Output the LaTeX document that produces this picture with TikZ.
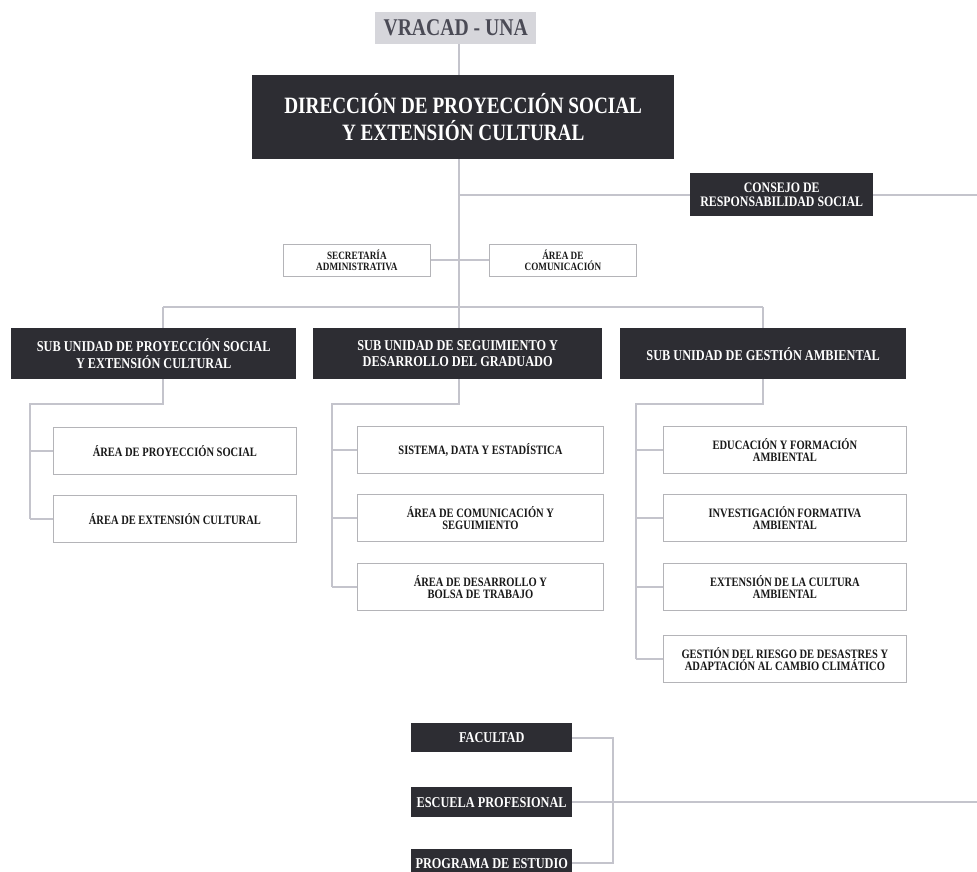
\documentclass[tikz,border=0pt]{standalone}
\usepackage{fontspec}
\setmainfont{Liberation Serif}[FakeStretch=0.82]
\pgfdeclarelayer{bglayer}
\pgfdeclarelayer{lines}
\pgfsetlayers{bglayer,lines,main}
\definecolor{boxdark}{HTML}{2D2D33}
\definecolor{linegray}{HTML}{C4C4CC}
\definecolor{boxedge}{HTML}{B4B4B8}
\definecolor{vrafill}{HTML}{D6D6DB}
\definecolor{vratext}{HTML}{4A4A55}
\tikzset{
  darkbox/.style={fill=boxdark, draw=none, text=white, font=\bfseries, align=center, inner sep=0pt, anchor=north west},
  lightbox/.style={fill=white, draw=boxedge, line width=0.8pt, text=black!90, font=\bfseries, align=center, inner sep=0pt, anchor=north west},
  conn/.style={draw=linegray, line width=2pt},
}
\begin{document}
\begin{tikzpicture}[x=1pt,y=-1pt]
\begin{pgfonlayer}{bglayer}
\fill[white] (0,0) rectangle (977,871);
\end{pgfonlayer}
\useasboundingbox (0,0) rectangle (977,871);

% top
\node[fill=vrafill, text=vratext, font=\bfseries\fontsize{24}{26}\selectfont, inner sep=0pt, anchor=north west, minimum width=161pt, minimum height=32pt] (vracad) at (375,12) {VRACAD - UNA};
\node[darkbox, font=\bfseries\fontsize{23.4}{27}\selectfont, minimum width=422pt, minimum height=84pt] (dir) at (252,75) {DIRECCIÓN DE PROYECCIÓN SOCIAL\\Y EXTENSIÓN CULTURAL};
\node[darkbox, font=\bfseries\fontsize{14.5}{14}\selectfont, minimum width=183pt, minimum height=43pt] (consejo) at (690,173) {CONSEJO DE\\RESPONSABILIDAD SOCIAL};
\node[lightbox, font=\bfseries\fontsize{11.2}{11}\selectfont, minimum width=147pt, minimum height=32pt] (secre) at (283,244) {SECRETARÍA\\ADMINISTRATIVA};
\node[lightbox, font=\bfseries\fontsize{11.2}{11}\selectfont, minimum width=147pt, minimum height=32pt] (acom) at (489,244) {ÁREA DE\\COMUNICACIÓN};

% sub unidades
\node[darkbox, font=\bfseries\fontsize{15}{16.5}\selectfont, minimum width=285pt, minimum height=51pt] (su1) at (11,328) {SUB UNIDAD DE PROYECCIÓN SOCIAL\\Y EXTENSIÓN CULTURAL};
\node[darkbox, font=\bfseries\fontsize{15}{16.5}\selectfont, minimum width=289pt, minimum height=51pt] (su2) at (313,328) {SUB UNIDAD DE SEGUIMIENTO Y\\DESARROLLO DEL GRADUADO};
\node[darkbox, font=\bfseries\fontsize{15}{16.5}\selectfont, minimum width=286pt, minimum height=51pt] (su3) at (620,328) {SUB UNIDAD DE GESTIÓN AMBIENTAL};

% children
\tikzset{child/.style={lightbox, font=\bfseries\fontsize{12.8}{12.5}\selectfont, minimum height=47pt}}
\node[child, minimum width=243pt] (a1) at (53,427) {ÁREA DE PROYECCIÓN SOCIAL};
\node[child, minimum width=243pt] (a2) at (53,495) {ÁREA DE EXTENSIÓN CULTURAL};
\node[child, minimum width=246pt] (b1) at (357,426) {SISTEMA, DATA Y ESTADÍSTICA};
\node[child, minimum width=246pt] (b2) at (357,494) {ÁREA DE COMUNICACIÓN Y\\SEGUIMIENTO};
\node[child, minimum width=246pt] (b3) at (357,563) {ÁREA DE DESARROLLO Y\\BOLSA DE TRABAJO};
\node[child, minimum width=243pt] (c1) at (663,426) {EDUCACIÓN Y FORMACIÓN\\AMBIENTAL};
\node[child, minimum width=243pt] (c2) at (663,494) {INVESTIGACIÓN FORMATIVA\\AMBIENTAL};
\node[child, minimum width=243pt] (c3) at (663,563) {EXTENSIÓN DE LA CULTURA\\AMBIENTAL};
\node[child, minimum width=243pt] (c4) at (663,635) {GESTIÓN DEL RIESGO DE DESASTRES Y\\ADAPTACIÓN AL CAMBIO CLIMÁTICO};

% bottom
\tikzset{small/.style={darkbox, font=\bfseries\fontsize{15}{16}\selectfont, minimum width=161pt}}
\node[small, minimum height=29pt] (fac) at (411,723) {FACULTAD};
\node[small, minimum height=30pt] (esc) at (411,787) {ESCUELA PROFESIONAL};
\node[small, minimum height=28pt] (prog) at (411,849) {PROGRAMA DE ESTUDIO};

% helper coordinates
\coordinate (spine) at (459,0);
\coordinate (busL) at (163,307);
\coordinate (busR) at (763,307);
\coordinate (brY) at (0,404);
\coordinate (lx) at (30,0);
\coordinate (mx) at (332,0);
\coordinate (rx) at (636,0);
\coordinate (bx) at (613,0);
\coordinate (redge) at (977,0);

\begin{pgfonlayer}{lines}
\draw[conn] (vracad.south -| spine) -- (dir.north -| spine);
\draw[conn] (dir.south -| spine) -- (spine |- brY) -- (mx |- brY) -- (mx |- b3.west);
\draw[conn] (spine |- consejo.west) -- (consejo.west);
\draw[conn] (consejo.east) -- (redge |- consejo.east);
\draw[conn] (secre.east) -- (acom.west);
\draw[conn] (busL) -- (busR);
\draw[conn] (busL) -- (busL |- brY) -- (lx |- brY) -- (lx |- a2.west);
\draw[conn] (busR) -- (busR |- brY) -- (rx |- brY) -- (rx |- c4.west);
\foreach \n in {a1,a2} \draw[conn] (lx |- \n.west) -- (\n.west);
\foreach \n in {b1,b2,b3} \draw[conn] (mx |- \n.west) -- (\n.west);
\foreach \n in {c1,c2,c3,c4} \draw[conn] (rx |- \n.west) -- (\n.west);
\draw[conn] (fac.east) -- (bx |- fac.east) -- (bx |- prog.east) -- (prog.east);
\draw[conn] (esc.east) -- (redge |- esc.east);
\end{pgfonlayer}
\end{tikzpicture}
\end{document}
